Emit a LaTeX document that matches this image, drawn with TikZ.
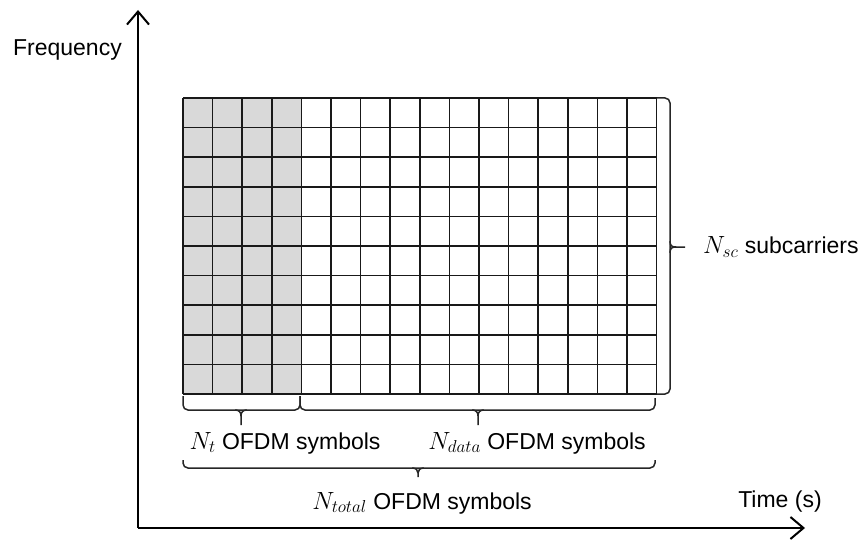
\documentclass[tikz,border=0pt]{standalone}
\usepackage{fontspec}
\setmainfont{Liberation Sans}
\usetikzlibrary{arrows.meta,calc}
\begin{document}
\begin{tikzpicture}[x=1pt,y=-1pt,
  every node/.style={font=\fontsize{23}{27}\selectfont, inner sep=0pt},
  axis/.style={line width=2pt, -{Straight Barb[length=13pt,width=22pt,line width=2pt]}},
  gridline/.style={line width=1.5pt, black!90},
  pilot/.style={fill=black!15},
  bracket/.style={line width=1.5pt, black!85, rounded corners=5pt},
  cusp/.style={line width=1.5pt, black!85}]
\useasboundingbox (0,0) rectangle (866,540);
% corners
\coordinate (g0) at (183,98);
\coordinate (gp) at (301.4,394);
\coordinate (origin) at (138,528);
\coordinate (ytop) at (138,10);
\coordinate (xend) at (805,528);
% pilot region
\fill[pilot] (g0) rectangle (gp);
% grid
\foreach \i in {0,...,16} \draw[gridline] (183+\i*29.6,98) -- (183+\i*29.6,394);
\foreach \j in {0,...,10} \draw[gridline] (183,98+\j*29.6) -- (656.6,98+\j*29.6);
% axes
\draw[axis] (origin) -- (ytop);
\draw[axis] (origin) -- (xend);
\node[anchor=east] (freq) at (122,50) {Frequency};
\node (time) at (780,502) {Time (s)};
% right brace
\coordinate (rb0) at (657,98);
\coordinate (rb1) at (657,394);
\coordinate (rbtip) at (685,247);
\draw[bracket] (rb0) -- (670,98) -- (670,394) -- (rb1);
\draw[cusp] (670,241) .. controls (670,246) and (672,247) .. (676,247) -- (rbtip);
\draw[cusp] (670,253) .. controls (670,248) and (672,247) .. (676,247);
\node[anchor=west] (nsc) at (703,247) {$N_{sc}$ subcarriers};
% bottom braces
\coordinate (b0) at (183,396);
\coordinate (b1) at (300,396);
\coordinate (b2) at (655,398);
\coordinate (nttip) at (241,425);
\coordinate (ndtip) at (478,425);
\draw[bracket] (b0) -- (183,410) -- (300,410) -- (b1);
\draw[bracket] (b1) -- (300,410) -- (655,410) -- (b2);
\draw[cusp] (235,410) .. controls (239,410) and (241,412) .. (241,416) -- (nttip);
\draw[cusp] (247,410) .. controls (243,410) and (241,412) .. (241,416);
\draw[cusp] (472,410) .. controls (476,410) and (478,412) .. (478,416) -- (ndtip);
\draw[cusp] (484,410) .. controls (480,410) and (478,412) .. (478,416);
\node (nt) at (285,443) {$N_t$ OFDM symbols};
\node (ndata) at (537,443) {$N_{data}$ OFDM symbols};
% total brace
\coordinate (t0) at (183,460);
\coordinate (t1) at (655,460);
\coordinate (tottip) at (418,477);
\draw[bracket] (t0) -- (183,468) -- (655,468) -- (t1);
\draw[cusp] (412,468) .. controls (416,468) and (418,470) .. (418,473) -- (tottip);
\draw[cusp] (424,468) .. controls (420,468) and (418,470) .. (418,473);
\node (ntot) at (422,503) {$N_{total}$ OFDM symbols};
\end{tikzpicture}
\end{document}
